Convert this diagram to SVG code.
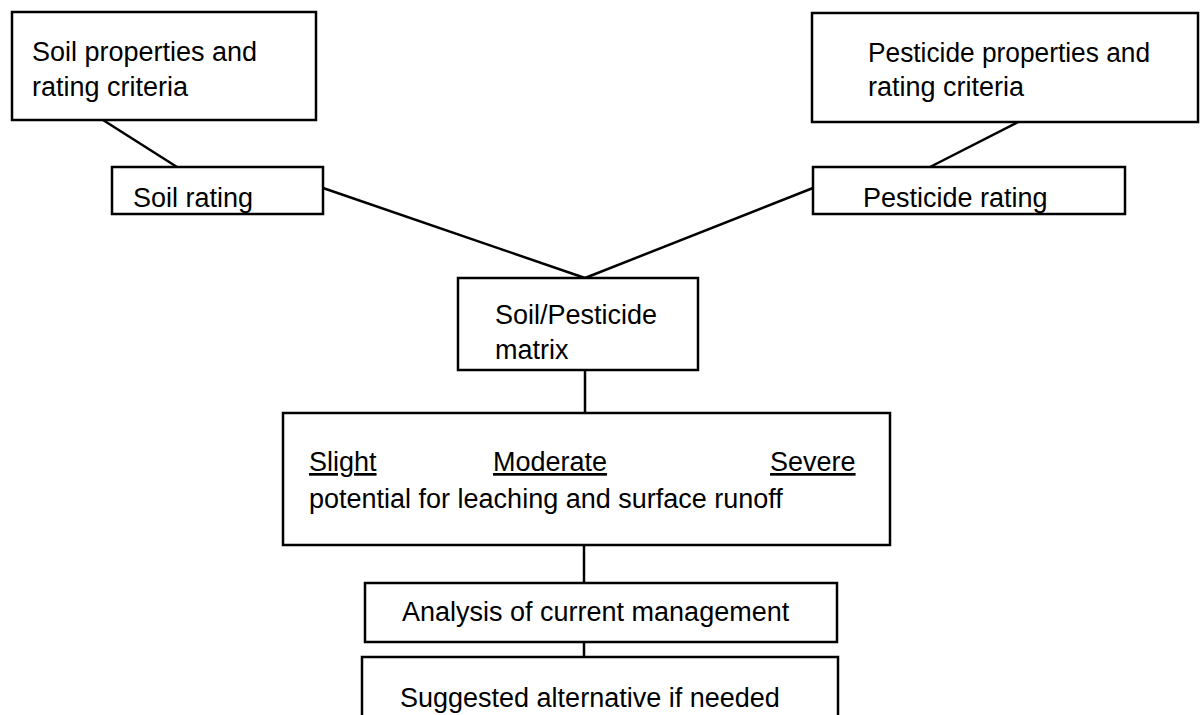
<svg xmlns="http://www.w3.org/2000/svg" width="1202" height="715" viewBox="0 0 1202 715">
<style>
.box{fill:#fff;stroke:#000;stroke-width:2.5}
.t{font-family:"Liberation Sans",Arial,sans-serif;font-size:27px;fill:#000}
.c{stroke:#000;stroke-width:2.5;fill:none}
.u{text-decoration:underline}
</style>
<rect width="1202" height="715" fill="#fff"/>
<g id="connectors">
<line class="c" x1="103" y1="120" x2="177" y2="167"/>
<line class="c" x1="1018" y1="122" x2="930" y2="167"/>
<line class="c" x1="323" y1="188" x2="585" y2="278"/>
<line class="c" x1="813" y1="188" x2="585" y2="278"/>
<line class="c" x1="585" y1="370" x2="585" y2="413"/>
<line class="c" x1="584" y1="545" x2="584" y2="583"/>
<line class="c" x1="584" y1="642" x2="584" y2="657"/>
</g>
<g id="soil-props">
<rect class="box" x="12" y="12" width="304" height="108"/>
<text class="t" x="32" y="61">Soil properties and</text>
<text class="t" x="32" y="96">rating criteria</text>
</g>
<g id="pest-props">
<rect class="box" x="812" y="13" width="386" height="109"/>
<text class="t" x="868" y="62" textLength="282" lengthAdjust="spacingAndGlyphs">Pesticide properties and</text>
<text class="t" x="868" y="96">rating criteria</text>
</g>
<g id="soil-rating">
<rect class="box" x="112" y="167" width="211" height="47"/>
<text class="t" x="133" y="207">Soil rating</text>
</g>
<g id="pest-rating">
<rect class="box" x="813" y="167" width="312" height="47"/>
<text class="t" x="863" y="207">Pesticide rating</text>
</g>
<g id="matrix">
<rect class="box" x="458" y="278" width="240" height="92"/>
<text class="t" x="495" y="324">Soil/Pesticide</text>
<text class="t" x="495" y="359">matrix</text>
</g>
<g id="potential">
<rect class="box" x="283" y="413" width="607" height="132"/>
<text class="t u" x="309" y="471">Slight</text>
<text class="t u" x="493" y="471">Moderate</text>
<text class="t u" x="770" y="471">Severe</text>
<text class="t" x="309" y="508">potential for leaching and surface runoff</text>
</g>
<g id="analysis">
<rect class="box" x="365" y="583" width="472" height="59"/>
<text class="t" x="402" y="621">Analysis of current management</text>
</g>
<g id="suggested">
<rect class="box" x="362" y="657" width="476" height="70"/>
<text class="t" x="400" y="707">Suggested alternative if needed</text>
</g>
</svg>
